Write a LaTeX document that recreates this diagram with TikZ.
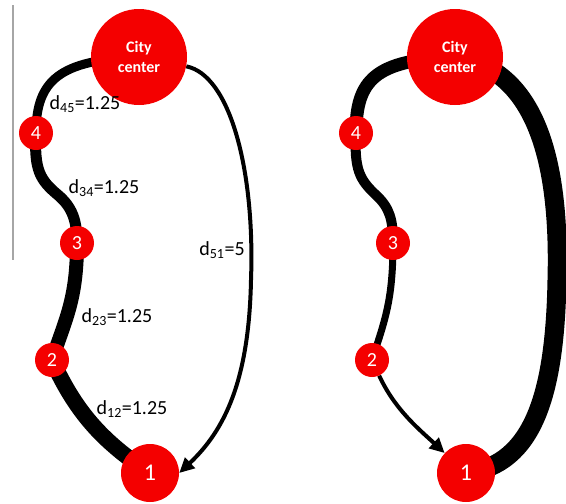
\documentclass[tikz,border=0pt]{standalone}
\usepackage{fontspec}
\setmainfont{Carlito}
\usetikzlibrary{arrows.meta,backgrounds}
\definecolor{nodered}{RGB}{244,0,0}
\begin{document}
\begin{tikzpicture}[x=1pt,y=-1pt,
  city/.style={circle,fill=nodered,minimum size=96pt,inner sep=0pt,text=white,
    font=\fontsize{16}{20}\selectfont\bfseries,align=center},
  stop/.style={circle,fill=nodered,minimum size=34pt,inner sep=0pt,text=white,
    font=\fontsize{20}{20}\selectfont},
  bigstop/.style={circle,fill=nodered,minimum size=58pt,inner sep=0pt,text=white,
    font=\fontsize{24}{24}\selectfont},
  lbl/.style={font=\fontsize{20}{22}\selectfont,inner sep=0pt},
  road/.style={line width=#1},
  tiparrow/.style={line width=4pt,-{Triangle[length=15pt,width=14pt]}}]
\useasboundingbox (0,0) rectangle (566,504);
% left diagram
\node[city] (C) at (139,57) {City\\center};
\node[stop] (n4) at (36,133) {4};
\node[stop] (n3) at (77,243) {3};
\node[stop] (n2) at (52,360) {2};
\node[bigstop] (n1) at (150,473) {1};
% right diagram
\node[city] (RC) at (455,57) {City\\center};
\node[stop] (r4) at (356,133) {4};
\node[stop] (r3) at (393,243) {3};
\node[stop] (r2) at (372,360) {2};
\node[bigstop] (r1) at (466,473) {1};
% labels
\node[lbl] (l45) at (85,104) {d\textsubscript{45}=1.25};
\node[lbl] (l34) at (104,188) {d\textsubscript{34}=1.25};
\node[lbl] (l51) at (222,250) {d\textsubscript{51}=5};
\node[lbl] (l23) at (117,317) {d\textsubscript{23}=1.25};
\node[lbl] (l12) at (132,409) {d\textsubscript{12}=1.25};
\begin{scope}[on background layer]
\draw[gray!70,line width=1.2pt] (13,5) -- (13,260);
% left roads
\draw[road=9pt] (C.center) .. controls (60,60) and (36,80) .. (n4.center);
\draw[road=11pt] (n4.center) .. controls (34,170) and (40,180) .. (58,195)
   .. controls (72,207) and (77,220) .. (n3.center);
\draw[road=14pt] (n3.center) .. controls (77,300) and (65,320) .. (n2.center);
\draw[road=16pt] (n2.center) .. controls (75,410) and (100,440) .. (n1.center);
\draw[tiparrow] (C) .. controls (230,75) and (255,170) .. (251,280)
   .. controls (249,380) and (225,430) .. (n1.east);
% right roads
\draw[road=13pt] (RC.center) .. controls (375,60) and (356,80) .. (r4.center);
\draw[road=10pt] (r4.center) .. controls (354,170) and (360,180) .. (376,195)
   .. controls (390,208) and (393,220) .. (r3.center);
\draw[road=7pt] (r3.center) .. controls (393,300) and (385,320) .. (r2.center);
\draw[tiparrow] (r2) .. controls (395,410) and (420,430) .. (r1);
\draw[road=19pt] (RC.center) .. controls (540,70) and (560,170) .. (557,280)
   .. controls (555,390) and (535,465) .. (r1.center);
\end{scope}
\end{tikzpicture}
\end{document}
